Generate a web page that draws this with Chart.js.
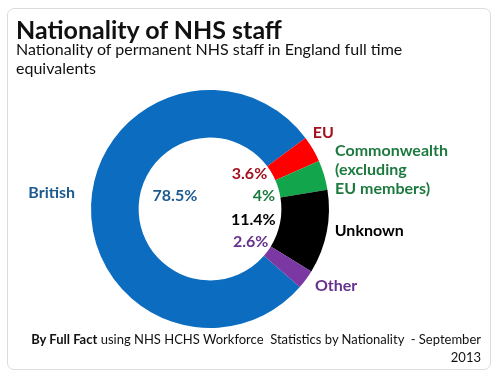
<!DOCTYPE html>
<html>
<head>
<script src="https://cdn.jsdelivr.net/npm/chart.js@4"></script>
<style>
  body { margin: 0; background: #fff; font-family: Lato, sans-serif; }
  #card { position: absolute; left: 7px; top: 8px; width: 482px; height: 360px;
          border: 1px solid #dcdcdc; border-radius: 7px; }
  #title { position: absolute; left: 16px; top: 14px; font-size: 25px; font-weight: bold; color: #111; }
  #sub { position: absolute; left: 16px; top: 39px; width: 440px; font-size: 16px; line-height: 19px; color: #111; }
  #foot { position: absolute; right: 19px; top: 330px; font-size: 13px; line-height: 18px;
          color: #111; text-align: right; white-space: nowrap; }
  canvas { position: absolute; left: 0; top: 0; }
</style>
</head>
<body>
<div id="card"></div>
<canvas id="chart" width="500" height="379"></canvas>
<div id="title">Nationality of NHS staff</div>
<div id="sub">Nationality of permanent NHS staff in England full time equivalents</div>
<div id="foot"><b>By Full Fact</b> using NHS HCHS Workforce&nbsp; Statistics by Nationality&nbsp; - September<br>2013</div>
<script>
    var categories = ['British', 'EU', ['Commonwealth', '(excluding', 'EU members)'], 'Unknown', 'Other'];
    var shares = [78.5, 3.6, 4, 11.4, 2.6];
    var sliceColors = ['#0b6cc0', '#fe0000', '#13a54b', '#000000', '#7b37a2'];
    var textColors = ['#1d5a90', '#a3101e', '#1d7a3f', '#000000', '#66328e'];

    // label placement tweaks (pixels), per slice
    var outerOffsets = [[-16, -12, 'right'], [0, -16, 'left'], [11, -24, 'left'], [8, -1, 'left'], [9, 6, 'left']];
    var innerOffsets = [[2, -12], [0, -8], [0, 2], [0, 0], [0, 1]];

    var ringLabels = {
        id: 'ringLabels',
        afterDatasetsDraw: function (chart) {
            var ctx = chart.ctx;
            var meta = chart.getDatasetMeta(0);
            ctx.save();
            ctx.font = 'bold 16px Lato';
            ctx.textBaseline = 'middle';
            meta.data.forEach(function (arc, i) {
                var p = arc.getProps(['x', 'y', 'startAngle', 'endAngle', 'innerRadius', 'outerRadius'], true);
                var mid = (p.startAngle + p.endAngle) / 2;
                ctx.fillStyle = textColors[i];

                // outside category label
                var o = outerOffsets[i];
                var ox = p.x + Math.cos(mid) * p.outerRadius + o[0];
                var oy = p.y + Math.sin(mid) * p.outerRadius + o[1];
                ctx.textAlign = o[2];
                var lines = [].concat(categories[i]);
                lines.forEach(function (ln, k) { ctx.fillText(ln, ox, oy + k * 19); });

                // percentage inside the hole
                var txt = shares[i] + '%';
                var d = innerOffsets[i];
                if (i === 0) {
                    ctx.textAlign = 'center';
                    ctx.fillText(txt, p.x + Math.cos(mid) * p.innerRadius * 0.52 + d[0],
                        p.y + Math.sin(mid) * p.innerRadius * 0.52 + d[1]);
                } else {
                    var iy = p.y + Math.sin(mid) * p.innerRadius * 0.75 + d[1];
                    var dy = iy - p.y;
                    var ix = p.x + Math.sqrt(Math.max(0, p.innerRadius * p.innerRadius - dy * dy)) - 5 + d[0];
                    ctx.textAlign = 'right';
                    ctx.fillText(txt, ix, iy);
                }
            });
            ctx.restore();
        }
    };

    new Chart('chart', {
        type: 'doughnut',
        data: {
            labels: categories.map(function (c) { return [].concat(c).join(' '); }),
            datasets: [{
                data: shares,
                backgroundColor: sliceColors,
                borderWidth: 0
            }]
        },
        options: {
            responsive: false,
            animation: false,
            rotation: 131,
            cutout: '60%',
            layout: { padding: { left: 91, right: 171, top: 90, bottom: 51 } },
            plugins: {
                legend: { display: false },
                tooltip: { enabled: false }
            }
        },
        plugins: [ringLabels]
    });
</script>
</body>
</html>
